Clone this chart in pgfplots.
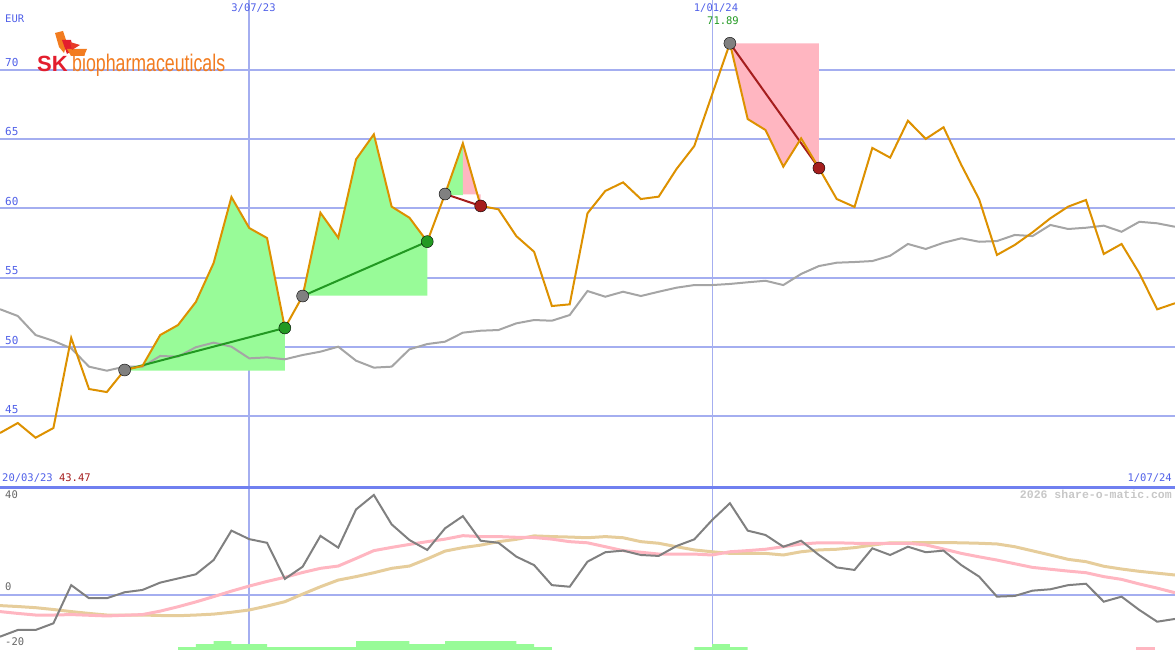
\documentclass[border=0pt]{standalone}
\usepackage{pgfplots}
\pgfplotsset{compat=1.18}
\usepackage{pgfplotstable}
\usepackage{graphicx}
\usepackage{fontspec}
\setmainfont{DejaVu Sans}
\setmonofont{DejaVu Sans Mono}
\newfontfamily\logofont{Liberation Sans}
\newfontfamily\wmfont{Liberation Mono}

\definecolor{gridblue}{RGB}{164,174,240}
\definecolor{sepblue}{RGB}{112,128,240}
\definecolor{lblblue}{RGB}{80,96,232}
\definecolor{price}{RGB}{221,145,0}
\definecolor{magray}{RGB}{165,165,165}
\definecolor{gainfill}{RGB}{152,251,152}
\definecolor{lossfill}{RGB}{255,182,193}
\definecolor{gainline}{RGB}{34,153,34}
\definecolor{lossline}{RGB}{165,30,30}
\definecolor{mom}{RGB}{128,128,128}
\definecolor{tanline}{RGB}{230,205,155}
\definecolor{pinkline}{RGB}{255,182,193}
\definecolor{skred}{RGB}{227,30,45}
\definecolor{skorange}{RGB}{242,124,32}

% weekly: price, moving average, momentum, two signal lines
\pgfplotstableread{
w price ma mom sig1 sig2
0 43.81 52.73 -18.1 -7.2 -4.6
1 44.53 52.24 -15.2 -8.0 -5.0
2 43.47 50.87 -15.2 -8.7 -5.5
3 44.17 50.45 -12.3 -8.7 -6.3
4 50.66 49.91 4.3 -8.5 -7.2
5 46.98 48.59 -1.4 -8.8 -8.0
6 46.76 48.30 -1.4 -9.1 -8.7
7 48.35 48.59 1.2 -8.8 -8.7
8 48.64 48.59 2.2 -8.5 -8.7
9 50.87 49.36 5.4 -7.0 -8.9
10 51.59 49.31 7.2 -5.1 -9.0
11 53.25 49.99 9.0 -3.0 -8.7
12 56.06 50.32 15.2 -0.7 -8.3
13 60.81 50.03 28.0 1.7 -7.5
14 58.58 49.19 24.3 3.9 -6.5
15 57.86 49.26 22.7 5.9 -4.8
16 51.38 49.12 7.0 7.7 -2.9
17 53.68 49.43 12.3 9.8 0.4
18 59.68 49.67 25.7 11.6 3.6
19 57.88 50.03 20.6 12.6 6.5
20 63.53 49.02 37.2 15.9 8.0
21 65.33 48.52 43.5 19.3 9.7
22 60.12 48.59 30.7 20.7 11.6
23 59.32 49.84 23.9 22.0 12.6
24 57.60 50.22 19.6 23.2 15.7
25 61.03 50.39 29.0 24.3 19.1
26 64.68 51.04 34.3 25.8 20.6
27 60.17 51.18 23.6 25.4 21.7
28 59.93 51.23 22.7 25.4 23.2
29 58.00 51.71 16.7 25.1 24.2
30 56.87 51.95 13.0 25.0 25.7
31 52.96 51.90 4.3 24.3 25.4
32 53.08 52.31 3.6 23.2 25.2
33 59.64 54.04 14.5 22.7 24.9
34 61.25 53.63 18.6 21.0 25.4
35 61.87 53.99 19.3 19.3 24.9
36 60.67 53.68 17.4 18.6 23.2
37 60.84 53.99 17.0 17.8 22.5
38 62.83 54.28 21.3 17.8 21.0
39 64.49 54.47 24.2 17.8 19.6
40 68.20 54.47 32.6 17.4 18.8
41 71.89 54.55 39.9 18.8 18.1
42 66.43 54.67 28.0 19.3 18.1
43 65.64 54.78 26.1 19.9 18.1
44 63.00 54.47 21.0 21.0 17.4
45 65.04 55.27 23.6 22.2 18.8
46 62.90 55.84 17.4 22.7 19.6
47 60.67 56.08 12.0 22.7 19.9
48 60.10 56.13 10.9 22.5 20.6
49 64.35 56.20 20.3 22.5 21.7
50 63.65 56.58 17.4 22.5 22.7
51 66.31 57.43 21.0 22.5 22.7
52 65.00 57.07 18.6 21.8 22.8
53 65.84 57.52 19.3 20.0 22.8
54 63.12 57.84 13.0 18.1 22.7
55 60.65 57.59 8.0 16.6 22.5
56 56.64 57.64 -0.7 15.2 22.2
57 57.36 58.08 -0.4 13.6 21.0
58 58.27 58.00 1.9 12.0 19.2
59 59.28 58.80 2.5 11.2 17.4
60 60.12 58.51 4.3 10.4 15.5
61 60.60 58.60 4.9 9.7 14.5
62 56.71 58.75 -2.9 8.0 12.5
63 57.43 58.31 -0.7 6.8 11.3
64 55.32 59.03 -6.5 4.8 10.3
65 52.72 58.92 -11.6 3.0 9.5
66 53.16 58.67 -10.4 1.0 8.7
}\weekly

\pgfplotsset{
  panel/.style={
    anchor=south west, scale only axis, width=1175pt,
    xmin=0, xmax=66,
    axis line style={draw=none}, tick style={draw=none},
    xtick={14}, xticklabels={}, xmajorgrids,
    extra x ticks={40}, extra x tick labels={},
    extra x tick style={grid=major, major grid style={gridblue, line width=1pt}},
    ymajorgrids,
    major grid style={gridblue, line width=2pt},
    /pgf/number format/assume math mode=true,
  }
}

\begin{document}
\begin{tikzpicture}[x=1pt,y=1pt]
\useasboundingbox (0,0) rectangle (1175,650);

\begin{axis}[panel, at={(0pt,163pt)}, height=487pt,
  ymin=39.92, ymax=75.01,
  ytick={45,50,...,70},
  yticklabel style={anchor=base west, inner sep=0pt, xshift=5pt, yshift=3pt,
    font=\ttfamily\fontsize{11}{11}\selectfont, text=lblblue},
]
% gain / loss areas
\addplot[fill=gainfill, draw=none] coordinates {(7,48.30) (7,48.35) (8,48.64) (9,50.87) (10,51.59) (11,53.25) (12,56.06) (13,60.81) (14,58.58) (15,57.86) (16,51.38) (16,48.30)};
\addplot[fill=gainfill, draw=none] coordinates {(17,53.70) (17,53.68) (18,59.68) (19,57.88) (20,63.53) (21,65.33) (22,60.12) (23,59.32) (24,57.60) (24,53.70)};
\addplot[fill=gainfill, draw=none] coordinates {(25,60.95) (25,61.03) (26,64.68) (26,60.95)};
\addplot[fill=lossfill, draw=none] coordinates {(26,64.68) (27,60.17) (27,61.0) (26,61.0)};
\addplot[fill=lossfill, draw=none] coordinates {(41,71.89) (42,66.43) (43,65.64) (44,63.00) (45,65.04) (46,62.90) (46,71.89)};
% moving average
\addplot[magray, line width=2pt] table[x=w, y=ma] {\weekly};
% trade lines
\addplot[gainline, line width=2pt] coordinates {(7,48.35) (16,51.38)};
\addplot[gainline, line width=2pt] coordinates {(17,53.68) (24,57.60)};
\addplot[lossline, line width=2pt] coordinates {(25,61.03) (27,60.17)};
\addplot[lossline, line width=2pt] coordinates {(41,71.89) (46,62.90)};
\addplot[only marks, mark=*, mark size=6pt, mark options={fill=gray, draw=none}]
  coordinates {(7,48.35) (17,53.68) (25,61.03) (41,71.89)};
% price
\addplot[price, line width=2pt] table[x=w, y=price] {\weekly};
\addplot[only marks, mark=*, mark size=6pt, mark options={fill=gainline, draw=none}]
  coordinates {(16,51.38) (24,57.60)};
\addplot[only marks, mark=*, mark size=6pt, mark options={fill=lossline, draw=none}]
  coordinates {(27,60.17) (46,62.90)};
\end{axis}

\begin{axis}[panel, at={(0pt,0pt)}, height=163pt,
  ymin=-23.9, ymax=46.96,
  ytick={0}, yticklabels={},
]
\addplot[fill=gainfill, draw=none] coordinates {(10,-25) (10,-22.6) (11,-22.6) (11,-21.3) (12,-21.3) (12,-20) (13,-20) (13,-21.3) (15,-21.3) (15,-22.6) (20,-22.6) (20,-20) (23,-20) (23,-21.3) (25,-21.3) (25,-20) (29,-20) (29,-21.3) (30,-21.3) (30,-22.6) (31,-22.6) (31,-25)};
\addplot[fill=gainfill, draw=none] coordinates {(39,-25) (39,-22.6) (40,-22.6) (40,-21.3) (41,-21.3) (41,-22.6) (42,-22.6) (42,-25)};
\addplot[fill=lossfill, draw=none] coordinates {(63.8,-25) (63.8,-22.6) (64.87,-22.6) (64.87,-25)};
\addplot[tanline, line width=3pt] table[x=w, y=sig2] {\weekly};
\addplot[pinkline, line width=3pt] table[x=w, y=sig1] {\weekly};
\addplot[mom, line width=2pt] table[x=w, y=mom] {\weekly};
\end{axis}

\draw[sepblue, line width=3pt] (0,162.5) -- (1175,162.5);

% texts
\begin{scope}[every node/.style={inner sep=0pt, font=\ttfamily\fontsize{10.5}{10.5}\selectfont}]
\node[anchor=base west, text=lblblue] at (5,627) {EUR};
\node[anchor=base, text=lblblue] at (253.5,638) {3/07/23};
\node[anchor=base, text=lblblue] at (716,638) {1/01/24};
\node[anchor=base, text=gainline] at (723,625) {71.89};
\node[anchor=base west] at (2,168) {\textcolor{lblblue}{20/03/23} \textcolor{lossline}{43.47}};
\node[anchor=base east, text=lblblue] at (1172,168) {1/07/24};
\node[anchor=base west, text=black!60] at (5,151) {40};
\node[anchor=base west, text=black!60] at (5,59) {0};
\node[anchor=base west, text=black!60] at (5,4) {-20};
\node[anchor=base east, text=black!22, font=\wmfont\bfseries\fontsize{11.5}{11.5}\selectfont] at (1172,151) {2026 share-o-matic.com};
\end{scope}

% logo
\fill[skorange] (55,617) -- (63,619) -- (67,607) -- (64,597) -- (59,603) -- cycle;
\fill[skred] (62,610) -- (71,610) -- (73,600) -- (67,596) -- cycle;
\fill[skorange] (67,601) -- (87,601) -- (84,594) -- (71,594) -- cycle;
\fill[skred!70!skorange] (70,608) -- (80,605) -- (72,600) -- cycle;
\node[anchor=base west, inner sep=0pt, text=skred, font=\logofont\bfseries\fontsize{22}{22}\selectfont] at (37,578) {SK};
\node[anchor=base west, inner sep=0pt, text=skorange] at (72,578) {\scalebox{0.74}[1]{\logofont\fontsize{24}{24}\selectfont biopharmaceuticals}};
\end{tikzpicture}
\end{document}
